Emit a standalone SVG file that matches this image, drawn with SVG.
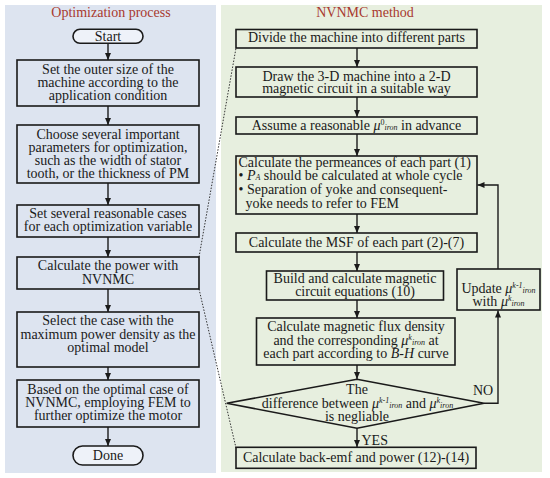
<svg xmlns="http://www.w3.org/2000/svg" width="550" height="478" viewBox="0 0 550 478">
<defs>
<marker id="ah" markerWidth="8" markerHeight="8" refX="7" refY="4" orient="auto" markerUnits="userSpaceOnUse"><path d="M0,1 L7,4 L0,7 Z" fill="#1a1a1a"/></marker>
</defs>
<style>
text{font-family:"Liberation Serif","Times New Roman",serif;font-size:14px;fill:#1a1a1a}
.c{text-anchor:middle}
.box{fill:none;stroke:#1a1a1a;stroke-width:1.6}
.pill{fill:#eef2f9;stroke:#1a1a1a;stroke-width:1.6}
.ttl{fill:#a8392e}
.con{fill:none;stroke:#1a1a1a;stroke-width:1.4}
.dot{fill:none;stroke:#333;stroke-width:1;stroke-dasharray:1.5 1.5}
.s{font-size:8px}
.i{font-style:italic}
</style>
<g id="panels">
<rect x="5" y="5" width="211" height="468" fill="#dde4f0"/>
<rect x="221" y="5" width="321" height="467" fill="#e7efdf"/>
<text class="c ttl" x="111" y="17">Optimization process</text>
<text class="c ttl" x="365" y="17">NVNMC method</text>
</g>
<g id="connectors">
<path class="con" marker-end="url(#ah)" d="M108,43.5 V60"/>
<path class="con" marker-end="url(#ah)" d="M108,106 V125"/>
<path class="con" marker-end="url(#ah)" d="M108,183 V205"/>
<path class="con" marker-end="url(#ah)" d="M108,237 V257"/>
<path class="con" marker-end="url(#ah)" d="M108,289 V312"/>
<path class="con" marker-end="url(#ah)" d="M108,367 V380"/>
<path class="con" marker-end="url(#ah)" d="M108,427 V446"/>
<path class="con" marker-end="url(#ah)" d="M357,48 V67"/>
<path class="con" marker-end="url(#ah)" d="M357,97 V117"/>
<path class="con" marker-end="url(#ah)" d="M357,134 V156"/>
<path class="con" marker-end="url(#ah)" d="M357,214 V233"/>
<path class="con" marker-end="url(#ah)" d="M357,252 V271"/>
<path class="con" marker-end="url(#ah)" d="M357,300 V318"/>
<path class="con" marker-end="url(#ah)" d="M357,365 V379"/>
<path class="con" marker-end="url(#ah)" d="M357,428.3 V447"/>
<path class="con" marker-end="url(#ah)" d="M484,403.3 H498 V310.5"/>
<path class="con" marker-end="url(#ah)" d="M498,269 V185 H477.5"/>
<path class="dot" d="M199,257 L236,48"/>
<path class="dot" d="M199,289 L236,448"/>
<text x="361.5" y="445">YES</text>
<text x="473" y="395">NO</text>
</g>
<g id="start">
<rect class="pill" x="73" y="29.3" width="70" height="14" rx="7"/>
<text class="c" x="108" y="40.5">Start</text>
</g>
<g id="box1">
<rect class="box" x="17" y="60" width="182" height="46"/>
<text class="c" x="108" y="73.5">Set the outer size of the</text>
<text class="c" x="108" y="86.5">machine according to the</text>
<text class="c" x="108" y="99.5">application condition</text>
</g>
<g id="box2">
<rect class="box" x="17" y="125" width="182" height="58"/>
<text class="c" x="108" y="139">Choose several important</text>
<text class="c" x="108" y="152">parameters for optimization,</text>
<text class="c" x="108" y="165">such as the width of stator</text>
<text class="c" x="108" y="178">tooth, or the thickness of PM</text>
</g>
<g id="box3">
<rect class="box" x="17" y="205" width="182" height="32"/>
<text class="c" x="108" y="217.5">Set several reasonable cases</text>
<text class="c" x="108" y="231">for each optimization variable</text>
</g>
<g id="box4">
<rect class="box" x="17" y="257" width="182" height="32"/>
<text class="c" x="108" y="270">Calculate the power with</text>
<text class="c" x="108" y="283.5">NVNMC</text>
</g>
<g id="box5">
<rect class="box" x="17" y="312" width="182" height="55"/>
<text class="c" x="108" y="325">Select the case with the</text>
<text class="c" x="108" y="338.5">maximum power density as the</text>
<text class="c" x="108" y="352">optimal model</text>
</g>
<g id="box6">
<rect class="box" x="17" y="380" width="182" height="47"/>
<text class="c" x="108" y="393.5">Based on the optimal case of</text>
<text class="c" x="108" y="407">NVNMC, employing FEM to</text>
<text class="c" x="108" y="420">further optimize the motor</text>
</g>
<g id="done">
<rect class="pill" x="73" y="446" width="70" height="19" rx="9.5"/>
<text class="c" x="108" y="460">Done</text>
</g>
<g id="r1">
<rect class="box" x="236" y="29.5" width="241" height="18.5"/>
<text class="c" x="356.5" y="42">Divide the machine into different parts</text>
</g>
<g id="r2">
<rect class="box" x="236" y="67" width="241" height="30"/>
<text class="c" x="356.5" y="80.5">Draw the 3-D machine into a 2-D</text>
<text class="c" x="356.5" y="93">magnetic circuit in a suitable way</text>
</g>
<g id="r3">
<rect class="box" x="236" y="117" width="241" height="17"/>
<text class="c" x="356.5" y="130">Assume a reasonable  <tspan class="i">μ</tspan><tspan class="s" dy="-5">0</tspan><tspan class="s i" dy="5">iron</tspan> in advance</text>
</g>
<g id="r4">
<rect class="box" x="236" y="156" width="241" height="58"/>
<text x="238.5" y="166.5">Calculate the permeances of each part (1)</text>
<text x="238.5" y="180">• <tspan class="i">P</tspan><tspan class="s i">A</tspan> should be calculated at whole cycle</text>
<text x="238.5" y="194">• Separation of yoke and consequent-</text>
<text x="245.5" y="207.5">yoke needs to refer to FEM</text>
</g>
<g id="r5">
<rect class="box" x="236" y="233" width="241" height="19"/>
<text class="c" x="356.5" y="246.5">Calculate the MSF of each part (2)-(7)</text>
</g>
<g id="r6">
<rect class="box" x="266.5" y="271" width="177" height="29"/>
<text class="c" x="355" y="282.5">Build and calculate magnetic</text>
<text class="c" x="355" y="295.5">circuit equations (10)</text>
</g>
<g id="r7">
<rect class="box" x="256.5" y="318" width="198.5" height="47"/>
<text class="c" x="356" y="331">Calculate magnetic flux density</text>
<text class="c" x="356" y="344.5">and the corresponding  <tspan class="i">μ</tspan><tspan class="s i" dy="-5">k</tspan><tspan class="s i" dy="5">iron</tspan> at</text>
<text class="c" x="356" y="358">each part according to <tspan class="i">B</tspan>-<tspan class="i">H</tspan> curve</text>
</g>
<g id="update">
<rect class="box" x="457" y="269" width="83" height="41"/>
<text class="c" x="498.5" y="293">Update  <tspan class="i">μ</tspan><tspan class="s i" dy="-5">k-1</tspan><tspan class="s i" dy="5">iron</tspan></text>
<text class="c" x="498.5" y="306">with  <tspan class="i">μ</tspan><tspan class="s i" dy="-5">k</tspan><tspan class="s i" dy="5">iron</tspan></text>
</g>
<g id="decision">
<path class="box" d="M226.7,403.3 L357,379.3 L484,403.3 L357,428.3 Z"/>
<text class="c" x="357" y="393.5">The</text>
<text class="c" x="357.5" y="407.5">difference between  <tspan class="i">μ</tspan><tspan class="s i" dy="-5">k-1</tspan><tspan class="s i" dy="5">iron</tspan> and  <tspan class="i">μ</tspan><tspan class="s i" dy="-5">k</tspan><tspan class="s i" dy="5">iron</tspan></text>
<text class="c" x="357" y="421">is negliable</text>
</g>
<g id="r8">
<rect class="box" x="236" y="447.3" width="240" height="21"/>
<text class="c" x="356" y="462">Calculate back-emf and power (12)-(14)</text>
</g>
</svg>
